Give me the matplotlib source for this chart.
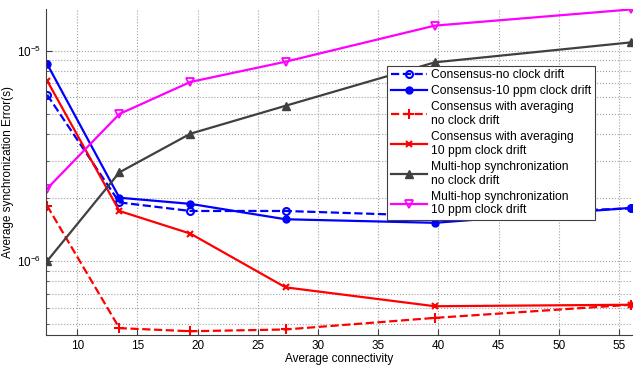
import matplotlib
matplotlib.use("Agg")
import matplotlib.pyplot as plt
from matplotlib.ticker import LogLocator, NullFormatter

plt.rcParams["font.family"] = ["Liberation Sans", "DejaVu Sans"]

# average connectivity
connectivity = [7.5, 13.5, 19.4, 27.3, 39.7, 56.0]

# average synchronization error (s)
cons_nodrift = [6.17e-6, 1.90e-6, 1.73e-6, 1.73e-6, 1.64e-6, 1.78e-6]
cons_drift = [8.64e-6, 2.00e-6, 1.87e-6, 1.58e-6, 1.52e-6, 1.79e-6]
avg_nodrift = [1.83e-6, 4.80e-7, 4.64e-7, 4.73e-7, 5.37e-7, 6.20e-7]
avg_drift = [7.20e-6, 1.73e-6, 1.35e-6, 7.50e-7, 6.10e-7, 6.20e-7]
mh_nodrift = [1.00e-6, 2.64e-6, 4.03e-6, 5.47e-6, 8.80e-6, 1.095e-5]
mh_drift = [2.21e-6, 5.00e-6, 7.10e-6, 8.86e-6, 1.315e-5, 1.57e-5]

labels = [
    "Consensus-no clock drift",
    "Consensus-10 ppm clock drift",
    "Consensus with averaging\nno clock drift",
    "Consensus with averaging\n10 ppm clock drift",
    "Multi-hop synchronization\nno clock drift",
    "Multi-hop synchronization\n10 ppm clock drift",
]

fig = plt.figure(figsize=(6.38, 3.69), dpi=100)
ax = fig.add_axes([0.072, 0.092, 0.919, 0.884])

ax.semilogy(connectivity, cons_nodrift, "--o", color="blue", lw=1.6, ms=5,
            mfc="none", mew=1.5, label=labels[0])
ax.semilogy(connectivity, cons_drift, "-o", color="blue", lw=1.6, ms=5,
            label=labels[1])
ax.semilogy(connectivity, avg_nodrift, "--+", color="red", lw=1.6, ms=7,
            mew=1.5, label=labels[2])
ax.semilogy(connectivity, avg_drift, "-x", color="red", lw=1.6, ms=5,
            mew=1.5, label=labels[3])
ax.semilogy(connectivity, mh_nodrift, "-^", color="#404040", lw=1.6, ms=6,
            label=labels[4])
ax.semilogy(connectivity, mh_drift, "-v", color="magenta", lw=1.6, ms=6,
            mfc="none", mew=1.3, label=labels[5])

ax.set_xlim(7.4, 56.1)
ax.set_ylim(4.45e-7, 1.58e-5)
ax.set_xticks(range(10, 56, 5))
ax.yaxis.set_major_locator(LogLocator(base=10))
ax.yaxis.set_minor_locator(LogLocator(base=10, subs=range(2, 10)))
ax.yaxis.set_minor_formatter(NullFormatter())

ax.grid(True, which="both", linestyle=":", color="#a0a0a0", lw=0.8)
ax.grid(False, which="minor", axis="x")
for side in ("top", "right"):
    ax.spines[side].set_visible(False)
for side in ("left", "bottom"):
    ax.spines[side].set_color("#404040")
ax.tick_params(which="both", direction="in", labelsize=8.5, colors="#404040",
               labelcolor="black")
ax.tick_params(which="major", length=4)
ax.tick_params(which="minor", length=2)

ax.set_xlabel("Average connectivity", fontsize=8.5, labelpad=1)
ax.set_ylabel("Average synchronization Error(s)", fontsize=8.5, labelpad=2)

leg = ax.legend(loc="upper left", bbox_to_anchor=(0.582, 0.826), fontsize=8.7,
                handlelength=3.0, labelspacing=0.33, borderpad=0.3,
                handletextpad=0.35, borderaxespad=0, fancybox=False,
                framealpha=1)
leg.get_frame().set_edgecolor("#404040")
leg.get_frame().set_linewidth(0.8)

fig.savefig("out.png", dpi=100)
